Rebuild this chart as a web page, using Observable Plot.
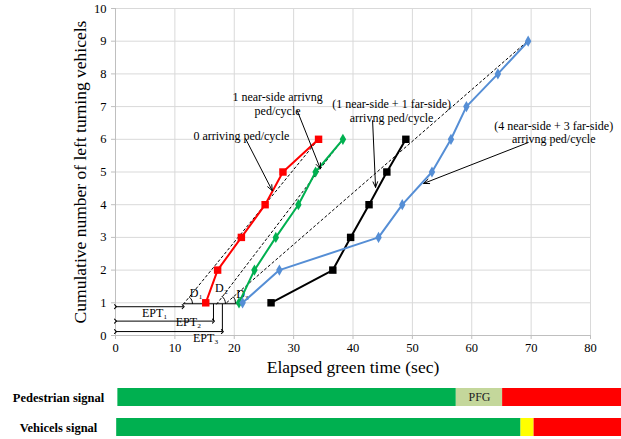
<!DOCTYPE html>
<html>
<head>
<meta charset="utf-8">
<script src="https://cdn.jsdelivr.net/npm/d3@7"></script>
<script src="https://cdn.jsdelivr.net/npm/@observablehq/plot@0.6"></script>
<style>
  body { margin: 0; background: white; }
  #chart { width: 621px; }
  #chart svg { display: block; }
</style>
</head>
<body>
<div id="chart"></div>
<script>
// ---- tick labels ----
const xTicks = [0, 10, 20, 30, 40, 50, 60, 70, 80];
const yTicks = [0, 1, 2, 3, 4, 5, 6, 7, 8, 9, 10];

// ---- series (cumulative vehicles vs elapsed green time) ----
const steps6 = [1, 2, 3, 4, 5, 6];
const steps9 = [1, 2, 3, 4, 5, 6, 7, 8, 9];
const redX   = [15.2, 17.2, 21.2, 25.2, 28.2, 34.2];        // 0 arriving ped/cycle
const greenX = [20.8, 23.4, 27.0, 30.8, 33.7, 38.3];        // 1 near-side
const blackX = [26.2, 36.6, 39.6, 42.7, 45.7, 48.9];        // 1 near + 1 far
const blueX  = [21.4, 27.6, 44.3, 48.3, 53.3, 56.5, 59.1, 64.4, 69.5]; // 4 near + 3 far

// ---- dashed reference lines ----
const dashX1 = [11.4, 17.0, 18.7];
const dashY1 = [0.95, 0.95, 1.0];
const dashX2 = [34.4, 38.5, 69.7];
const dashY2 = [6.05, 6.05, 9.05];

// ---- EPT arrows ----
const eptLabels = ["EPT\u2081", "EPT\u2082", "EPT\u2083"];
const eptEnd = [11.4, 16.5, 18.0];
const eptY   = [0.88, 0.44, 0.12];
const eptLabelX = [6.6, 12.3, 15.2];
const eptLabelY = [0.67, 0.40, -0.09];

// connectors
const connX1 = [11.4, 16.5, 18.0];
const connY1 = [0.97, 0.44, 0.12];
const connX2 = [20.9, 16.5, 18.0];
const connY2 = [0.97, 0.97, 0.97];

// angle arcs D1..D3
const arcId = ["D1","D1","D1","D2","D2","D2","D3","D3","D3"];
const arcX  = [12.96, 12.84, 12.48, 18.52, 18.37, 17.94, 20.2, 20.13, 19.86];
const arcY  = [0.979, 1.082, 1.166, 0.979, 1.099, 1.195, 1.0, 1.094, 1.178];
const dLabels = ["D\u2081", "D\u2082", "D\u2083"];
const dLabelX = [13.6, 17.85, 21.4];
const dLabelY = [1.28, 1.44, 1.25];

// ---- annotations ----
const annText = ["0 arriving ped/cycle", "1 near-side arrivng\nped/cycle",
                 "(1 near-side + 1 far-side)\narrivng ped/cycle",
                 "(4 near-side + 3 far-side)\narrivng ped/cycle"];
const annX = [21.2, 27.3, 46.5, 73.8];
const annY = [6.12, 7.09, 6.87, 6.22];
const arrX1 = [21.9, 30.6, 43.3, 69.5];
const arrY1 = [6.02, 6.88, 6.57, 5.90];
const arrX2 = [26.4, 34.5, 43.8, 51.9];
const arrY2 = [4.43, 5.10, 4.53, 4.65];

// ---- signal bars ----
const sigRows  = ["Pedestrian signal", "Vehicels signal"];
const sigRow   = ["Pedestrian signal", "Pedestrian signal", "Pedestrian signal", "Vehicels signal", "Vehicels signal", "Vehicels signal"];
const sigStart = [0.4, 57.4, 65.2, 0.2, 68.3, 70.5];
const sigEnd   = [57.4, 65.2, 85.5, 68.3, 70.5, 85.5];
const sigColor = ["#00b050", "#c4d79b", "#ff0000", "#00b050", "#ffff00", "#ff0000"];
const pfgText = ["PFG"];
const pfgX = [61.3];

// ---- build tables ----
const mk = (xs, ys) => xs.map((x, i) => ({x, y: ys[i]}));
const red = mk(redX, steps6), green = mk(greenX, steps6), black = mk(blackX, steps6), blue = mk(blueX, steps9);
const dashes = dashX1.map((x, i) => ({x1: x, y1: dashY1[i], x2: dashX2[i], y2: dashY2[i]}));
const epts = eptEnd.map((x, i) => ({x1: 0, x2: x, y: eptY[i], label: eptLabels[i], lx: eptLabelX[i], ly: eptLabelY[i]}));
const conns = connX1.map((x, i) => ({x1: x, y1: connY1[i], x2: connX2[i], y2: connY2[i]}));
const arcs = arcX.map((x, i) => ({id: arcId[i], x, y: arcY[i]}));
const dlabs = dLabels.map((t, i) => ({t, x: dLabelX[i], y: dLabelY[i]}));
const anns = annText.map((t, i) => ({t, x: annX[i], y: annY[i], x1: arrX1[i], y1: arrY1[i], x2: arrX2[i], y2: arrY2[i]}));
const sig = sigRow.map((r, i) => ({row: r, start: sigStart[i], end: sigEnd[i], color: sigColor[i]}));

const FONT = "'Liberation Serif', 'Times New Roman', serif";
const GRID = "#d9d9d9";
const AXIS = "#bfbfbf";

const main = Plot.plot({
  width: 621, height: 380,
  marginTop: 8, marginRight: 31, marginBottom: 45, marginLeft: 115,
  style: {fontFamily: FONT, fontSize: "12.5px", background: "white", color: "black"},
  x: {domain: [0, 80], axis: null},
  y: {domain: [0, 10], axis: null},
  marks: [
    Plot.gridX(xTicks, {stroke: GRID, strokeOpacity: 1}),
    Plot.gridY(yTicks, {stroke: GRID, strokeOpacity: 1}),
    Plot.ruleY([0], {stroke: AXIS}),
    Plot.ruleX([0], {stroke: AXIS}),
    Plot.axisX({ticks: xTicks, tickSize: 4, tickPadding: 4, stroke: AXIS, fill: "black", fontSize: 12.5, label: null}),
    Plot.axisY({ticks: yTicks, tickSize: 4, tickPadding: 5, stroke: AXIS, fill: "black", fontSize: 12.5, label: null}),
    Plot.text(["Elapsed green time (sec)"], {frameAnchor: "bottom", dy: 37, fontSize: 17.5}),
    Plot.text(["Cumulative number of left turning vehicels"], {frameAnchor: "left", dx: -35, rotate: -90, textAnchor: "middle", fontSize: 17.5}),
    // dashed reference lines
    Plot.link(dashes, {x1: "x1", y1: "y1", x2: "x2", y2: "y2", stroke: "black", strokeWidth: 1, strokeDasharray: "3,2"}),
    // EPT arrows and connectors
    Plot.link(epts, {x1: "x1", x2: "x2", y1: "y", y2: "y", stroke: "black", strokeWidth: 1, markerStart: "arrow", markerEnd: "arrow"}),
    Plot.link(conns, {x1: "x1", y1: "y1", x2: "x2", y2: "y2", stroke: "black", strokeWidth: 1}),
    Plot.line(arcs, {x: "x", y: "y", z: "id", curve: "natural", stroke: "black", strokeWidth: 1}),
    Plot.text(epts, {x: "lx", y: "ly", text: "label", fontSize: 12}),
    Plot.text(dlabs, {x: "x", y: "y", text: "t", fontSize: 12}),
    // series
    Plot.line(red, {x: "x", y: "y", stroke: "#ff0000", strokeWidth: 2}),
    Plot.dot(red, {x: "x", y: "y", symbol: "square", fill: "#ff0000", r: 4.2}),
    Plot.line(green, {x: "x", y: "y", stroke: "#00b050", strokeWidth: 2}),
    Plot.dot(green, {x: "x", y: "y", symbol: "diamond", fill: "#00b050", r: 3.4}),
    Plot.line(black, {x: "x", y: "y", stroke: "black", strokeWidth: 2}),
    Plot.dot(black, {x: "x", y: "y", symbol: "square", fill: "black", r: 4.2}),
    Plot.line(blue, {x: "x", y: "y", stroke: "#558ed5", strokeWidth: 2}),
    Plot.dot(blue, {x: "x", y: "y", symbol: "diamond", fill: "#558ed5", r: 3.4}),
    // annotations
    Plot.arrow(anns, {x1: "x1", y1: "y1", x2: "x2", y2: "y2", stroke: "black", strokeWidth: 1, headLength: 9, headAngle: 45}),
    Plot.text(anns, {x: "x", y: "y", text: "t", fontSize: 12, lineHeight: 1.15, fill: "black"})
  ]
});

const signals = Plot.plot({
  width: 621, height: 59,
  marginTop: 8, marginRight: 31, marginBottom: 3, marginLeft: 115,
  style: {fontFamily: FONT, fontSize: "12.5px", background: "white", color: "black"},
  x: {domain: [0, 80], axis: null},
  y: {domain: sigRows, axis: null, paddingInner: 0.4, paddingOuter: 0},
  color: {type: "identity"},
  marks: [
    Plot.barX(sig, {y: "row", x1: "start", x2: "end", fill: "color"}),
    Plot.text(sigRows, {y: d => d, text: d => d, frameAnchor: "left", dx: -57, textAnchor: "middle", fontWeight: "bold", fontSize: 12.5}),
    Plot.text(pfgText, {x: pfgX, y: () => sigRows[0], text: d => d, fontSize: 12, fill: "#222"})
  ]
});

const root = document.getElementById("chart");
root.appendChild(main);
root.appendChild(signals);
</script>
</body>
</html>
